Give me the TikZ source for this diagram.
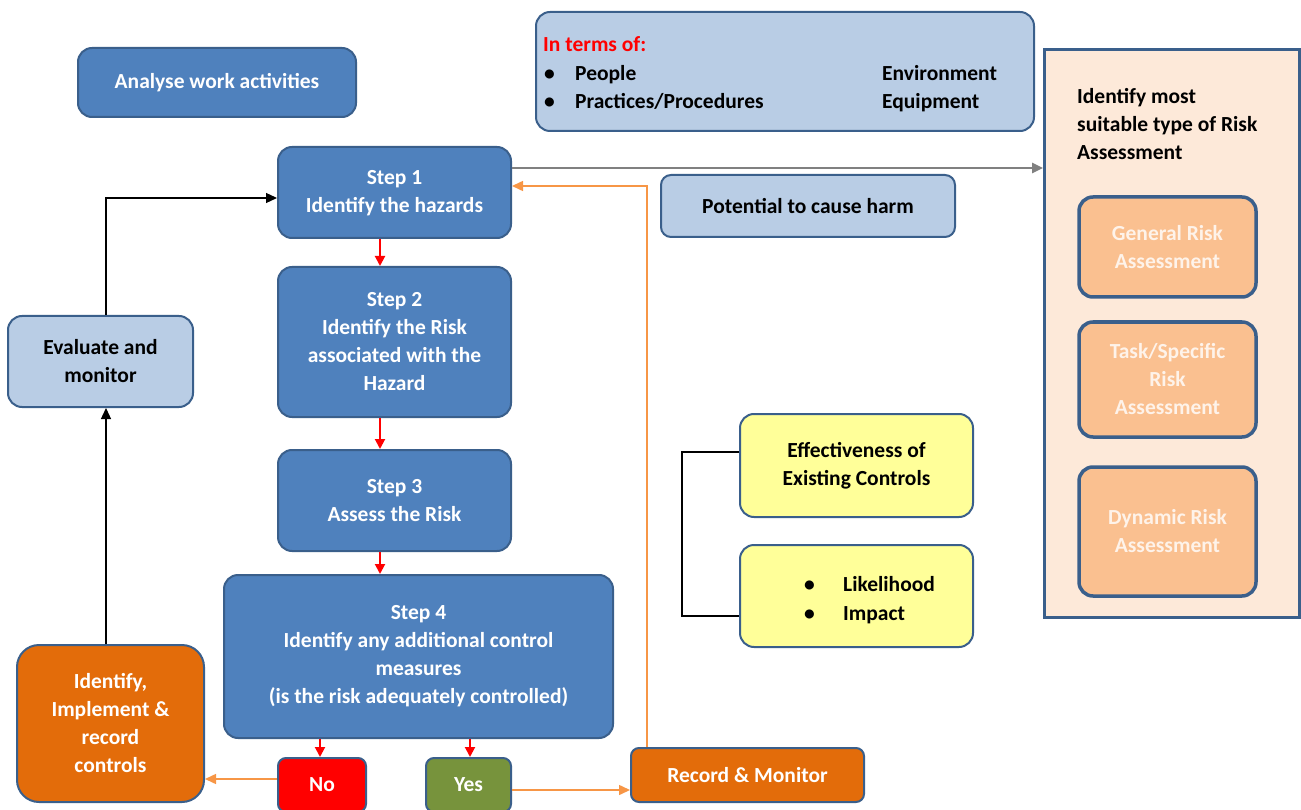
\documentclass[tikz,border=0pt]{standalone}
\usepackage{fontspec}
\setmainfont{Carlito}
\usetikzlibrary{arrows.meta,calc}
\definecolor{stepblue}{HTML}{4F81BD}
\definecolor{bordblue}{HTML}{3A5F8B}
\definecolor{lightblue}{HTML}{B9CDE5}
\definecolor{orangebox}{HTML}{E36C0A}
\definecolor{peach}{HTML}{FAC090}
\definecolor{panelfill}{HTML}{FDE9D9}
\definecolor{yellowbox}{HTML}{FFFF99}
\definecolor{greenbox}{HTML}{77933C}
\definecolor{arrowor}{HTML}{F79646}
\definecolor{peachtext}{HTML}{FEF3EA}
\begin{document}
\begin{tikzpicture}[x=1pt,y=-1pt,
  txt/.style={font=\fontsize{21.5}{28}\selectfont\bfseries},
  box/.style={txt,draw=bordblue,line width=2pt,rounded corners=14pt,align=center,inner sep=0pt,minimum width=#1},
  stepbox/.style={box=#1,fill=stepblue,text=white},
  lbbox/.style={box=#1,fill=lightblue,text=black},
  orbox/.style={box=#1,fill=orangebox,text=white},
  pchbox/.style={box=#1,fill=peach,text=peachtext,line width=3.5pt},
  ylbox/.style={box=#1,fill=yellowbox,text=black},
  redarr/.style={draw=red,line width=2pt,-{Triangle[length=10pt,width=10pt]}},
  blkarr/.style={draw=black,line width=1.3pt,-{Triangle[length=11pt,width=10pt]}},
  orarr/.style={draw=arrowor,line width=1.5pt,-{Triangle[length=11pt,width=10pt]}},
  grayarr/.style={draw=gray,line width=2.5pt,-{Triangle[length=11pt,width=10pt]}},
  plain/.style={txt,inner sep=0pt,anchor=base west}
]
\useasboundingbox (0,0) rectangle (1301,810);
% right panel
\node[draw=bordblue,line width=3pt,fill=panelfill,minimum width=255pt,minimum height=567pt,inner sep=0pt] (panel) at (1172,333.5) {};
\node[plain,anchor=north west,align=left,text=black] (paneltext) at (1077,88) {Identify most\\suitable type of Risk\\Assessment};
\node[pchbox=177pt,minimum height=100pt] (general) at (1167.5,247) {General Risk\\Assessment};
\node[pchbox=177pt,minimum height=115pt] (task) at (1167.5,379.5) {Task/Specific\\Risk\\Assessment};
\node[pchbox=177pt,minimum height=129pt] (dynamic) at (1167.5,531.5) {Dynamic Risk\\Assessment};

% top boxes
\node[stepbox=278pt,minimum height=69pt] (analyse) at (217,82.5) {Analyse work activities};
\node[lbbox=498pt,minimum height=119pt] (terms) at (785,71.5) {};
\node[plain,text=red] (termtitle) at (543,52) {In terms of:};
\node[plain] (b1) at (544,81) {\textbullet};
\node[plain] (b2) at (544,109) {\textbullet};
\node[plain] (people) at (575,81) {People};
\node[plain] (practices) at (575,109) {Practices/Procedures};
\node[plain] (environment) at (882,81) {Environment};
\node[plain] (equipment) at (882,109) {Equipment};

% steps
\node[stepbox=233pt,minimum height=91pt,text depth=3pt] (step1) at (394.5,192.5) {Step 1\\Identify the hazards};
\node[stepbox=233pt,minimum height=150pt] (step2) at (394.5,342) {Step 2\\Identify the Risk\\associated  with the\\Hazard};
\node[stepbox=233pt,minimum height=101pt] (step3) at (394.5,500.5) {Step 3\\Assess the Risk};
\node[stepbox=389pt,minimum height=163pt] (step4) at (418.5,656.5) {Step 4\\Identify any additional  control\\measures\\(is the risk adequately controlled)};

\node[lbbox=294pt,minimum height=62pt,rounded corners=10pt] (potential) at (808,206) {Potential to cause harm};
\node[lbbox=185pt,minimum height=91pt] (evaluate) at (100.5,361.5) {Evaluate  and\\monitor};
\node[orbox=187pt,minimum height=157pt,rounded corners=22pt] (identify) at (110.5,723.5) {Identify,\\Implement \&\\record\\controls};
\node[box=88pt,fill=red,text=white,minimum height=54pt,rounded corners=8pt] (no) at (322,785) {No};
\node[box=85pt,fill=greenbox,text=white,minimum height=54pt,rounded corners=8pt] (yes) at (468.5,785) {Yes};
\node[orbox=233pt,minimum height=54pt,rounded corners=8pt] (record) at (747.5,775) {Record \& Monitor};

\node[ylbox=233pt,minimum height=103pt] (effect) at (856.5,465.5) {Effectiveness  of\\Existing  Controls};
\node[ylbox=233pt,minimum height=102pt] (likely) at (856.5,596) {};
\node[plain] (b3) at (804,591) {\textbullet};
\node[plain] (b4) at (804,620) {\textbullet};
\node[plain] (likelihood) at (843,591) {Likelihood};
\node[plain] (impact) at (843,620) {Impact};

% connectors
\draw[grayarr] (step1.east |- 0,168) -- (panel.west |- 0,168);
\draw[orarr] (record.north -| 647,0) -- (647,186) -- (step1.east |- 0,186);
\draw[redarr] (step1.south -| 380,0) -- (step2.north -| 380,0);
\draw[redarr] (step2.south -| 380,0) -- (step3.north -| 380,0);
\draw[redarr] (step3.south -| 380,0) -- (step4.north -| 380,0);
\draw[redarr] (step4.south -| 320,0) -- (no.north -| 320,0);
\draw[redarr] (step4.south -| 470,0) -- (yes.north -| 470,0);
\draw[orarr] (no.west |- 0,779) -- (identify.east |- 0,779);
\draw[orarr] (yes.east |- 0,790) -- (record.west |- 0,790);
\draw[blkarr] (identify.north -| 106,0) -- (evaluate.south -| 106,0);
\draw[blkarr] (evaluate.north -| 106,0) -- (106,198) -- (step1.west |- 0,198);
\draw[black,line width=1.3pt] (effect.west |- 0,452) -- (682,452) -- (682,616) -- (likely.west |- 0,616);
\end{tikzpicture}
\end{document}
